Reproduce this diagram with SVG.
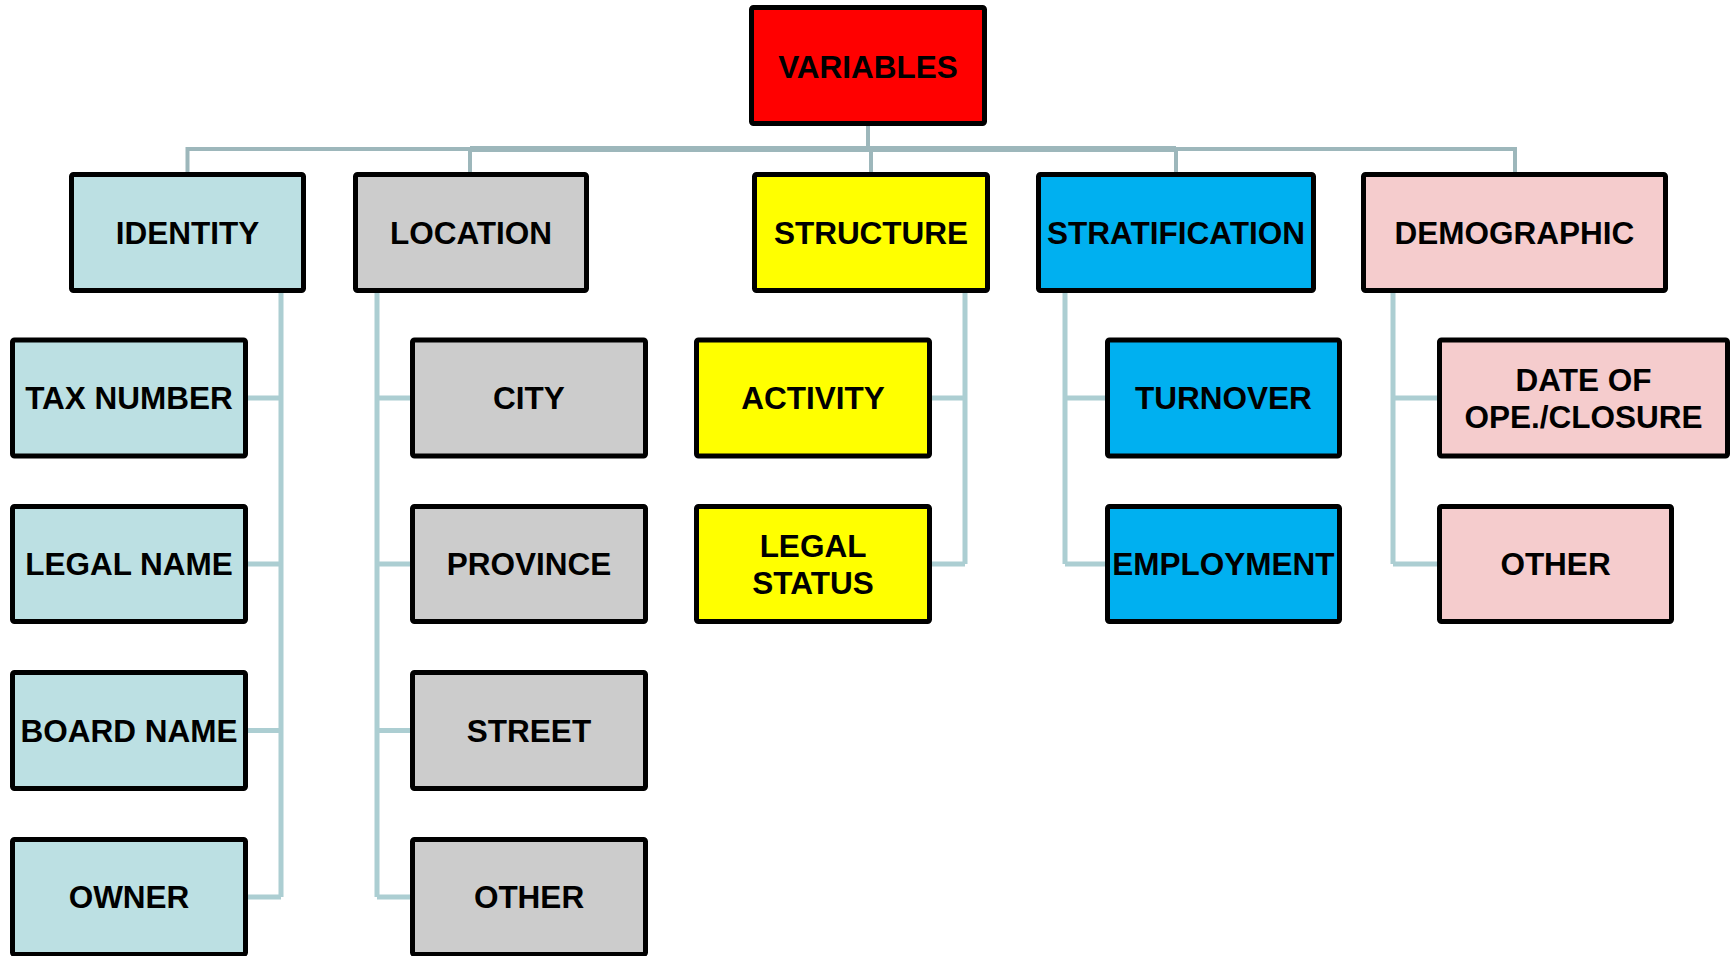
<svg xmlns="http://www.w3.org/2000/svg" width="1734" height="956" viewBox="0 0 1734 956">
<style>
.box{stroke:#000;stroke-width:5;stroke-linejoin:round}
.t{font-family:"Liberation Sans",Arial,sans-serif;font-weight:bold;font-size:31.5px;fill:#000;text-anchor:middle}
.red{fill:#FF0000}.cyan{fill:#BCE0E3}.grey{fill:#CCCCCC}.yel{fill:#FFFF00}.blue{fill:#00B0F0}.pink{fill:#F5CCCD}
.top{stroke:#9DB7BB;fill:none;stroke-width:4}
.topk{stroke:#9DB7BB;fill:none;stroke-width:6}
.sub{stroke:#ACCED2;fill:none;stroke-width:5;stroke-linejoin:round}
</style>
<rect width="1734" height="956" fill="#fff"/>
<g id="connectors">
<path class="top" d="M868 126V149M187.5 172V149H1515V172M470 149V172M871 149V172M1176 149V172"/>
<path class="topk" d="M470 149H1176"/>
<path class="sub" d="M281 293V897M248 398H281M248 564H281M248 730.5H281M248 897H281"/>
<path class="sub" d="M377 293V897M377 398H410M377 564H410M377 730.5H410M377 897H410"/>
<path class="sub" d="M965 293V564M932 398H965M932 564H965"/>
<path class="sub" d="M1065 293V564M1065 398H1105M1065 564H1105"/>
<path class="sub" d="M1393 293V564M1393 398H1437M1393 564H1437"/>
</g>
<g id="variables"><rect class="box red" x="751.5" y="7.5" width="233" height="116" rx="2"/><text class="t" x="868" y="77.5">VARIABLES</text></g>
<g id="identity"><rect class="box cyan" x="71.5" y="174.5" width="232" height="116" rx="2"/><text class="t" x="187.5" y="243.8">IDENTITY</text></g>
<g id="location"><rect class="box grey" x="355.5" y="174.5" width="231" height="116" rx="2"/><text class="t" x="471" y="243.8">LOCATION</text></g>
<g id="structure"><rect class="box yel" x="754.5" y="174.5" width="233" height="116" rx="2"/><text class="t" x="871" y="243.8">STRUCTURE</text></g>
<g id="stratification"><rect class="box blue" x="1038.5" y="174.5" width="275" height="116" rx="2"/><text class="t" x="1176" y="243.8">STRATIFICATION</text></g>
<g id="demographic"><rect class="box pink" x="1363.5" y="174.5" width="302" height="116" rx="2"/><text class="t" x="1514.5" y="243.8">DEMOGRAPHIC</text></g>
<g id="tax-number"><rect class="box cyan" x="12.5" y="340" width="233" height="116" rx="2"/><text class="t" x="129" y="409.3">TAX NUMBER</text></g>
<g id="legal-name"><rect class="box cyan" x="12.5" y="506.5" width="233" height="115" rx="2"/><text class="t" x="129" y="575.3">LEGAL NAME</text></g>
<g id="board-name"><rect class="box cyan" x="12.5" y="672.5" width="233" height="116" rx="2"/><text class="t" x="129" y="741.8">BOARD NAME</text></g>
<g id="owner"><rect class="box cyan" x="12.5" y="839.5" width="233" height="115" rx="2"/><text class="t" x="129" y="908.3">OWNER</text></g>
<g id="city"><rect class="box grey" x="412.5" y="340" width="233" height="116" rx="2"/><text class="t" x="529" y="409.3">CITY</text></g>
<g id="province"><rect class="box grey" x="412.5" y="506.5" width="233" height="115" rx="2"/><text class="t" x="529" y="575.3">PROVINCE</text></g>
<g id="street"><rect class="box grey" x="412.5" y="672.5" width="233" height="116" rx="2"/><text class="t" x="529" y="741.8">STREET</text></g>
<g id="location-other"><rect class="box grey" x="412.5" y="839.5" width="233" height="115" rx="2"/><text class="t" x="529" y="908.3">OTHER</text></g>
<g id="activity"><rect class="box yel" x="696.5" y="340" width="233" height="116" rx="2"/><text class="t" x="813" y="409.3">ACTIVITY</text></g>
<g id="legal-status"><rect class="box yel" x="696.5" y="506.5" width="233" height="115" rx="2"/><text class="t" x="813" y="557">LEGAL</text><text class="t" x="813" y="593.6">STATUS</text></g>
<g id="turnover"><rect class="box blue" x="1107.5" y="340" width="232" height="116" rx="2"/><text class="t" x="1223.5" y="409.3">TURNOVER</text></g>
<g id="employment"><rect class="box blue" x="1107.5" y="506.5" width="232" height="115" rx="2"/><text class="t" x="1223.5" y="575.3">EMPLOYMENT</text></g>
<g id="date-of-closure"><rect class="box pink" x="1439.5" y="340" width="288" height="116" rx="2"/><text class="t" x="1583.5" y="391">DATE OF</text><text class="t" x="1583.5" y="427.6">OPE./CLOSURE</text></g>
<g id="demographic-other"><rect class="box pink" x="1439.5" y="506.5" width="232" height="115" rx="2"/><text class="t" x="1555.5" y="575.3">OTHER</text></g>
</svg>
